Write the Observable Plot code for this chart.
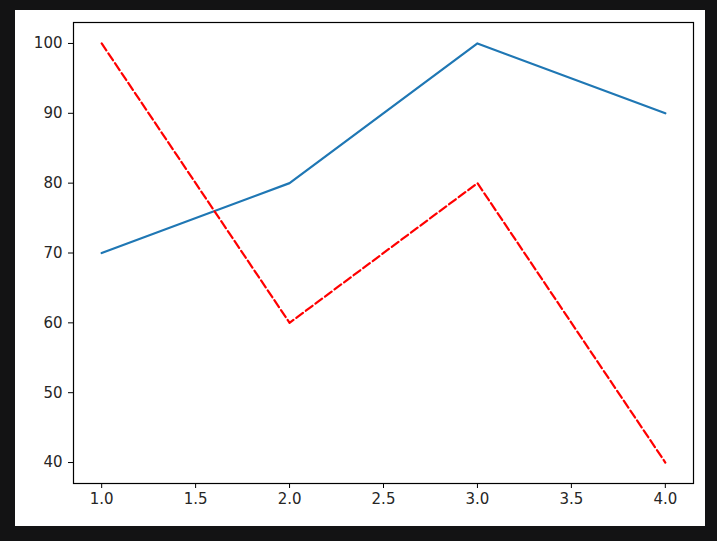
<!DOCTYPE html>
<html>
<head>
<meta charset="utf-8">
<script src="https://cdn.jsdelivr.net/npm/d3@7"></script>
<script src="https://cdn.jsdelivr.net/npm/@observablehq/plot@0.6"></script>
<style>
  html, body { margin: 0; padding: 0; background: #131314; width: 717px; height: 541px; overflow: hidden; }
  #fig { position: absolute; left: 15px; top: 10px; width: 690px; height: 516px; background: #ffffff; }
</style>
</head>
<body>
<div id="fig"></div>
<script>
const xs = [1, 2, 3, 4];
const seriesA = [70, 80, 100, 90];
const seriesB = [100, 60, 80, 40];
const xTicks = [1.0, 1.5, 2.0, 2.5, 3.0, 3.5, 4.0];
const yTicks = [40, 50, 60, 70, 80, 90, 100];

const dataA = xs.map((x, i) => ({x, y: seriesA[i]}));
const dataB = xs.map((x, i) => ({x, y: seriesB[i]}));

const chart = Plot.plot({
  width: 690,
  height: 516,
  marginLeft: 58,
  marginRight: 12,
  marginTop: 12,
  marginBottom: 43,
  style: {background: "transparent", fontFamily: "DejaVu Sans", fontSize: "15px", color: "#262626"},
  x: {domain: [0.85, 4.15]},
  y: {domain: [37, 103]},
  marks: [
    Plot.line(dataA, {x: "x", y: "y", stroke: "#1f77b4", strokeWidth: 2.2}),
    Plot.line(dataB, {x: "x", y: "y", stroke: "#ff0000", strokeWidth: 2.2, strokeDasharray: "8.3,3.6"}),
    Plot.frame({stroke: "#000000", strokeWidth: 1.2}),
    Plot.axisX({ticks: xTicks, tickFormat: d3.format(".1f"), tickSize: 5, tickPadding: 5, label: null, stroke: "#000", fill: "#262626"}),
    Plot.axisY({ticks: yTicks, tickFormat: d3.format("d"), tickSize: 5, tickPadding: 6, label: null, stroke: "#000", fill: "#262626"})
  ]
});
document.getElementById("fig").appendChild(chart);
</script>
</body>
</html>
